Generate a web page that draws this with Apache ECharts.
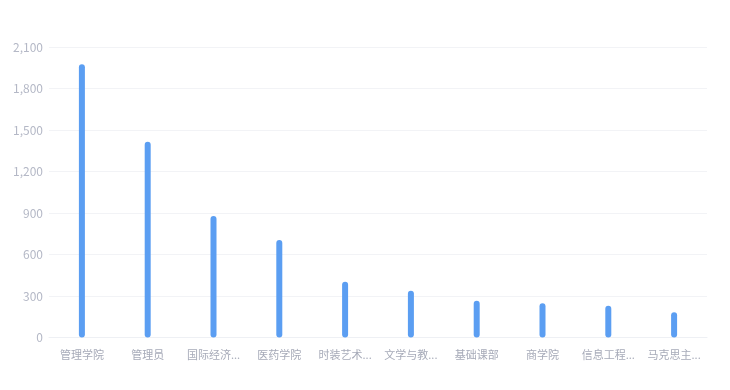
<!DOCTYPE html>
<html><head><meta charset="utf-8">
<script src="https://cdn.jsdelivr.net/npm/echarts@6/dist/echarts.min.js"></script>
<style>html,body{margin:0;padding:0;background:#fff;}#c{width:730px;height:390px;}</style>
</head><body><div id="c"></div>
<script>
const categories = ['管理学院','管理员','国际经济与贸易学院','医药学院','时装艺术学院','文学与教育学院','基础课部','商学院','信息工程学院','马克思主义学院'];
const values = [1975, 1415, 878, 705, 403, 338, 266, 247, 230, 182];
const yTicks = [0, 300, 600, 900, 1200, 1500, 1800, 2100];

const chart = echarts.init(document.getElementById('c'));
chart.setOption({
  animation: false,
  grid: {left: 49, right: 23, top: 47, bottom: 52.5, containLabel: false},
  xAxis: {
    type: 'category',
    data: categories,
    axisLine: {lineStyle: {color: '#eef0f4'}},
    axisTick: {show: false},
    axisLabel: {
      interval: 0,
      color: '#a6aab8', fontSize: 11, margin: 12,
      fontFamily: 'Noto Sans CJK SC',
      formatter: v => v.length > 4 ? v.slice(0, 4) + '...' : v
    }
  },
  yAxis: {
    type: 'value',
    min: yTicks[0], max: yTicks[yTicks.length - 1], interval: 300,
    axisLine: {show: false},
    axisTick: {show: false},
    splitLine: {lineStyle: {color: '#f2f3f6'}},
    axisLabel: {color: '#b4b8c6', fontSize: 12, margin: 6, fontFamily: 'Noto Sans CJK SC',
      formatter: v => v.toLocaleString('en-US')}
  },
  series: [{
    type: 'bar',
    data: values,
    barWidth: 6,
    itemStyle: {color: '#5b9ef2', borderRadius: 3}
  }]
});
</script></body></html>
